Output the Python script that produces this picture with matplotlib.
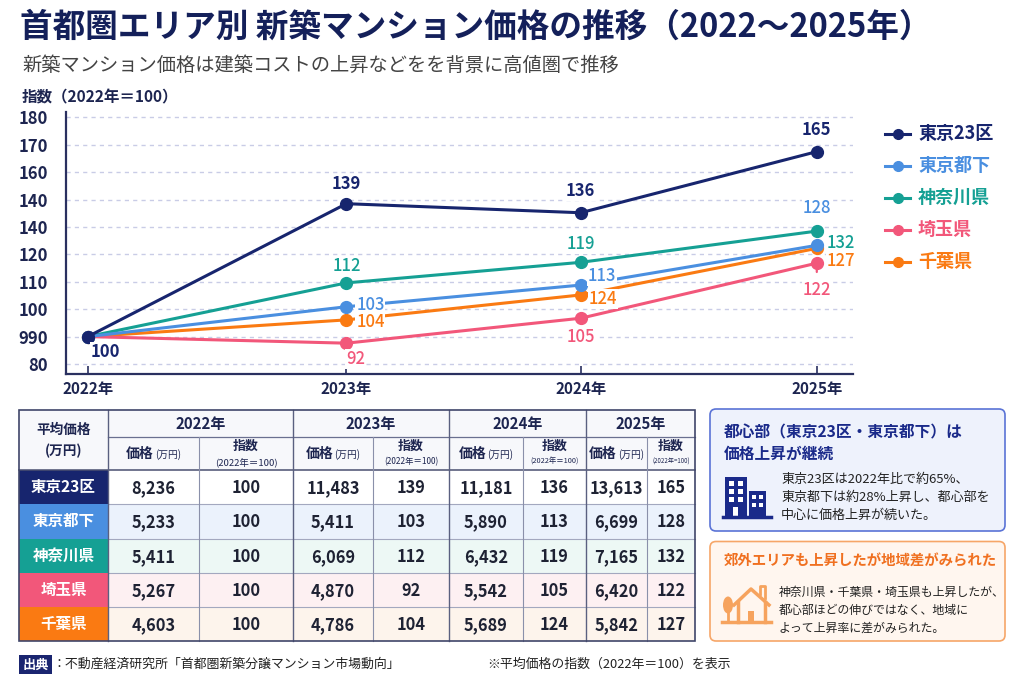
import matplotlib
matplotlib.use('Agg')
import matplotlib.pyplot as plt
from matplotlib.patches import Rectangle, FancyBboxPatch, Ellipse
from matplotlib.lines import Line2D

plt.rcParams['font.family'] = ['Noto Sans CJK JP', 'DejaVu Sans']

# ---------------- data ----------------
years = ['2022年', '2023年', '2024年', '2025年']
regions = ['東京23区', '東京都下', '神奈川県', '埼玉県', '千葉県']

# plotted positions as drawn on the chart's y scale
plot_tokyo23 = [90, 138.5, 135.2, 157.5]
plot_tokyo_shita = [90, 100.9, 108.8, 123.3]
plot_kanagawa = [90, 109.6, 117.1, 128.5]
plot_saitama = [90, 87.6, 96.7, 116.8]
plot_chiba = [90, 96.1, 105.2, 122.2]

# point labels as printed
label_tokyo23 = ['100', '139', '136', '165']
label_tokyo_shita = ['', '103', '113', '128']
label_kanagawa = ['', '112', '119', '132']
label_saitama = ['', '92', '105', '122']
label_chiba = ['', '104', '124', '127']

ytick_values = [80, 90, 100, 110, 120, 130, 140, 150, 160, 170]
ytick_labels = ['80', '990', '100', '110', '120', '140', '140', '160', '170', '180']

price_2022 = ['8,236', '5,233', '5,411', '5,267', '4,603']
index_2022 = ['100', '100', '100', '100', '100']
price_2023 = ['11,483', '5,411', '6,069', '4,870', '4,786']
index_2023 = ['139', '103', '112', '92', '104']
price_2024 = ['11,181', '5,890', '6,432', '5,542', '5,689']
index_2024 = ['136', '113', '119', '105', '124']
price_2025 = ['13,613', '6,699', '7,165', '6,420', '5,842']
index_2025 = ['165', '128', '132', '122', '127']

# ---------------- layout / style ----------------
W, H = 1024, 683
NAVY = '#17256e'
TXT = '#1d2550'
colors = ['#17256e', '#4a8fe0', '#15a094', '#f2577a', '#fa7a12']
x_pos = [0, 1, 1.906, 2.819]   # horizontal layout of the year categories

fig = plt.figure(figsize=(W / 100, H / 100), dpi=100)
fig.patch.set_facecolor('white')

ov = fig.add_axes([0, 0, 1, 1])
ov.set_xlim(0, W)
ov.set_ylim(H, 0)
ov.axis('off')
ov.set_zorder(0)

ax = fig.add_axes([65.7 / W, 1 - 374.3 / H, (853 - 65.7) / W, (374.3 - 111.9) / H])
ax.set_zorder(2)
ax.patch.set_alpha(0)

series = [plot_tokyo23, plot_tokyo_shita, plot_kanagawa, plot_saitama, plot_chiba]
labels = [label_tokyo23, label_tokyo_shita, label_kanagawa, label_saitama, label_chiba]
# label offsets in pixels (dx, dy-up)
offsets = [
    [(18, -15), (0, 20), (0, 22), (0, 22)],
    [None, (24, 2), (21, 9), (0, 37)],
    [None, (0, 17), (0, 18), (24, -12)],
    [None, (9, -16), (0, -19), (0, -27)],
    [None, (24, -2), (22, -4), (24, -13)],
]
draw_order = [3, 4, 2, 1, 0]
for i in draw_order:
    ax.plot(x_pos, series[i], color=colors[i], lw=2.2, marker='o', ms=8.5,
            zorder=3 + (4 - i) * 0.1, solid_capstyle='round')

for i in range(5):
    for j in range(4):
        if not labels[i][j]:
            continue
        dx, dy = offsets[i][j]
        kw = {}
        if i == 3 and j == 3:
            kw['arrowprops'] = dict(arrowstyle='-', color=colors[i], lw=1.6,
                                    shrinkA=6, shrinkB=4)
        ax.annotate(labels[i][j], (x_pos[j], series[i][j]), xytext=(dx, dy),
                    textcoords='offset pixels', ha='center', va='center',
                    color=colors[i], fontsize=12,
                    fontweight='bold' if i == 0 else 'medium',
                    bbox=dict(fc='white', ec='none', pad=0.6), zorder=6, **kw)

ax.set_xlim(-0.0855, 2.959)
ax.set_ylim(76.24, 172)
ax.set_yticks(ytick_values)
ax.set_yticklabels(ytick_labels)
ax.set_xticks(x_pos)
ax.set_xticklabels(years)
ax.tick_params(axis='y', length=0, pad=12.5, labelsize=12, labelcolor=TXT)
ax.tick_params(axis='x', direction='in', length=6, width=1.2, color='#2a3060',
               pad=5, labelsize=11, labelcolor=TXT)
for t in ax.get_yticklabels() + ax.get_xticklabels():
    t.set_fontweight('bold')
ax.yaxis.grid(True, ls=(0, (3, 3)), color='#c9cce6', lw=1)
ax.set_axisbelow(True)
for s in ['top', 'right']:
    ax.spines[s].set_visible(False)
for s in ['left', 'bottom']:
    ax.spines[s].set_color('#2a3060')
    ax.spines[s].set_linewidth(1.6)

# legend
for i, name in enumerate(regions):
    y = 133.5 + i * 32
    ov.add_line(Line2D([885, 910], [y, y], color=colors[i], lw=2.2))
    ov.plot([897.5], [y], 'o', color=colors[i], ms=7)
    ov.text(918, y, name, color=colors[i], fontsize=13, fontweight='bold',
            ha='left', va='center')

# titles
ov.text(20, 27, '首都圏エリア別 新築マンション価格の推移（2022〜2025年）', fontsize=23.5,
        fontweight='bold', color='#14205a', ha='left', va='center')
ov.text(22, 65, '新築マンション価格は建築コストの上昇などをを背景に高値圏で推移',
        fontsize=13.85, color='#444444', ha='left', va='center')
ov.text(22, 97, '指数（2022年＝100）', fontsize=11.2, fontweight='bold', color=TXT,
        ha='left', va='center')

# ---------------- table ----------------
cx = [19, 108, 199, 293, 373, 449, 523, 586, 647, 695]
ry = [410, 437, 470, 504, 538.5, 573, 607, 641]
row_fill = ['#ffffff', '#ebf2fc', '#edf8f5', '#fdf0f2', '#fdf4ec']
ov.add_patch(Rectangle((cx[0], ry[0]), cx[-1] - cx[0], ry[2] - ry[0],
                       fc='#f7f8fb', ec='none'))
prices = [price_2022, price_2023, price_2024, price_2025]
indexes = [index_2022, index_2023, index_2024, index_2025]
for r in range(5):
    y0, y1 = ry[r + 2], ry[r + 3]
    ov.add_patch(Rectangle((cx[0], y0), cx[1] - cx[0], y1 - y0, fc=colors[r], ec='none'))
    ov.add_patch(Rectangle((cx[1], y0), cx[-1] - cx[1], y1 - y0, fc=row_fill[r], ec='none'))
    ov.text((cx[0] + cx[1]) / 2, (y0 + y1) / 2, regions[r], color='white',
            fontsize=11.2, fontweight='bold', ha='center', va='center')
    for k in range(4):
        for m, vals in enumerate([prices[k], indexes[k]]):
            c0, c1 = cx[1 + 2 * k + m], cx[2 + 2 * k + m]
            ov.text((c0 + c1) / 2, (y0 + y1) / 2 + 1, vals[r], color='#1e2233',
                    fontsize=11.8, fontweight='bold', ha='center', va='center')
    if r > 0:
        ov.add_line(Line2D([cx[1], cx[-1]], [y0, y0], color='#a3a8bf', lw=0.8))

# header texts
ov.text((cx[0] + cx[1]) / 2, 430, '平均価格', fontsize=9.8, fontweight='bold',
        color=TXT, ha='center', va='center')
ov.text((cx[0] + cx[1]) / 2, 451, '(万円)', fontsize=9.8, fontweight='bold',
        color=TXT, ha='center', va='center')
sub_sizes = [6.8, 6.0, 5.3, 4.4]
sub_texts = ['(2022年＝100)', '(2022年＝100)', '(2022年＝100)', '(2022年=100)']
for k in range(4):
    c0, c1, c2 = cx[1 + 2 * k], cx[2 + 2 * k], cx[3 + 2 * k]
    ov.text((c0 + c2) / 2, 424, years[k], fontsize=10.8, fontweight='bold',
            color=TXT, ha='center', va='center')
    cc = (c0 + c1) / 2
    ov.text(cc + 0.5, 454, '価格', fontsize=10, fontweight='bold', color=TXT,
            ha='right', va='center')
    ov.text(cc + 1.5, 454.5, '(万円)', fontsize=7, color=TXT, ha='left', va='center')
    cc2 = (c1 + c2) / 2
    ov.text(cc2, 446, '指数', fontsize=9.3, fontweight='bold', color=TXT,
            ha='center', va='center')
    ov.text(cc2, 462, sub_texts[k], fontsize=sub_sizes[k], color=TXT,
            ha='center', va='center')

# grid lines
ov.add_line(Line2D([cx[1], cx[-1]], [ry[1], ry[1]], color='#6a7090', lw=0.9))
ov.add_line(Line2D([cx[0], cx[-1]], [ry[2], ry[2]], color='#4a5070', lw=1.1))
for idx in range(1, 9):
    top = ry[0] if idx % 2 == 1 else ry[1]
    ov.add_line(Line2D([cx[idx], cx[idx]], [top, ry[-1]],
                       color='#5a6080' if idx % 2 == 1 else '#8a90aa',
                       lw=1.0 if idx % 2 == 1 else 0.8))
ov.add_patch(Rectangle((cx[0], ry[0]), cx[-1] - cx[0], ry[-1] - ry[0],
                       fc='none', ec='#40466a', lw=1.2, zorder=5))

# ---------------- side boxes ----------------
ov.add_patch(FancyBboxPatch((710, 409), 295, 122,
                            boxstyle='round,pad=0,rounding_size=6',
                            fc='#eef2fc', ec='#5a73d6', lw=1.2))
ov.text(724, 432, '都心部（東京23区・東京都下）は', fontsize=11.3, fontweight='bold',
        color='#1a2a8a', ha='left', va='center')
ov.text(724, 453.5, '価格上昇が継続', fontsize=11.3, fontweight='bold',
        color='#1a2a8a', ha='left', va='center')
for n, line in enumerate(['東京23区は2022年比で約65%、', '東京都下は約28%上昇し、都心部を',
                          '中心に価格上昇が続いた。']):
    ov.text(781, 479 + n * 18.4, line, fontsize=9.4, color='#222222',
            ha='left', va='center')
# building icon
bc = '#1a2a8a'
ov.add_patch(Rectangle((725, 477), 22, 40, fc=bc, ec='none'))
ov.add_patch(Rectangle((749, 491), 17, 26, fc=bc, ec='none'))
ov.add_line(Line2D([723, 771], [517, 517], color=bc, lw=2.5))
for wy in [481, 489, 497]:
    for wx in [729, 738]:
        ov.add_patch(Rectangle((wx, wy), 4.5, 4.5, fc='white', ec='none'))
ov.add_patch(Rectangle((733, 507), 5, 10, fc='white', ec='none'))
for wy in [495, 503]:
    for wx in [752, 759]:
        ov.add_patch(Rectangle((wx, wy), 4, 4, fc='white', ec='none'))

ov.add_patch(FancyBboxPatch((710, 541.5), 295, 99.5,
                            boxstyle='round,pad=0,rounding_size=6',
                            fc='#fff6ef', ec='#f6a668', lw=1.2))
ov.text(724, 562, '郊外エリアも上昇したが地域差がみられた', fontsize=10.4,
        fontweight='bold', color='#f07020', ha='left', va='center')
for n, line in enumerate(['神奈川県・千葉県・埼玉県も上昇したが、', '都心部ほどの伸びではなく、地域に',
                          'よって上昇率に差がみられた。']):
    ov.text(779, 592.5 + n * 17.6, line, fontsize=8.6, color='#222222',
            ha='left', va='center')
# house icon
hc = '#f6a35e'
ov.add_patch(Ellipse((728, 605), 10, 17, fc=hc, ec='none'))
ov.add_line(Line2D([728, 728], [608, 622], color=hc, lw=2))
ov.add_line(Line2D([734, 751, 769], [605, 589, 605], color=hc, lw=2.5))
ov.add_line(Line2D([760, 760, 765, 765], [594, 586, 586, 598], color=hc, lw=2))
ov.add_line(Line2D([738, 738], [602, 622], color=hc, lw=2.5))
ov.add_line(Line2D([765, 765], [602, 622], color=hc, lw=2.5))
ov.add_line(Line2D([722, 771], [622, 622], color=hc, lw=2.5))
ov.add_patch(Rectangle((748, 611), 6, 11, fc=hc, ec='none'))

# ---------------- footer ----------------
ov.add_patch(Rectangle((19, 655), 33, 19, fc='#1a2570', ec='none'))
ov.text(35.5, 664.5, '出典', fontsize=9.5, fontweight='bold', color='white',
        ha='center', va='center')
ov.text(53, 664.5, '：不動産経済研究所「首都圏新築分譲マンション市場動向」', fontsize=9.3,
        color='#222222', ha='left', va='center')
ov.text(487, 664.5, '※平均価格の指数（2022年＝100）を表示', fontsize=9.3,
        color='#222222', ha='left', va='center')

fig.savefig('out.png', dpi=100, facecolor='white')
